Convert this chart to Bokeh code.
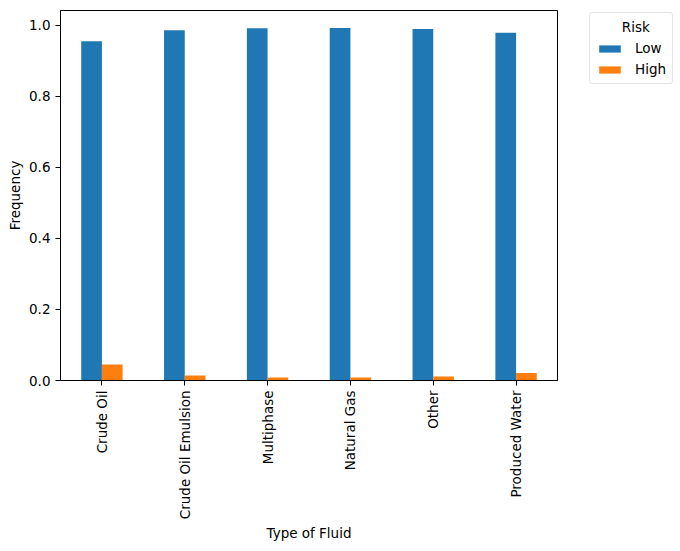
import math
from bokeh.plotting import figure
from bokeh.models import FactorRange, Legend, LegendItem, FixedTicker, NumeralTickFormatter
from bokeh.transform import dodge
from bokeh.embed import file_html
from bokeh.resources import INLINE
from bokeh.models import ColumnDataSource

fluids = ["Crude Oil", "Crude Oil Emulsion", "Multiphase", "Natural Gas", "Other", "Produced Water"]
low = [0.955, 0.986, 0.9915, 0.9918, 0.989, 0.979]
high = [0.045, 0.014, 0.0085, 0.0082, 0.011, 0.021]
y_ticks = [0.0, 0.2, 0.4, 0.6, 0.8, 1.0]
legend_title = "Risk"

FONT = "DejaVu Sans"
FS = "13.5px"

src = ColumnDataSource(data=dict(fluid=fluids, low=low, high=high))

p = figure(x_range=FactorRange(factors=fluids), y_range=(0, max(low) * 1.05),
           frame_width=497, frame_height=370,
           min_border_left=60, min_border_right=115, min_border_top=10, min_border_bottom=150,
           output_backend="svg", toolbar_location=None)

r_low = p.vbar(x=dodge("fluid", -0.125, range=p.x_range), top="low", width=0.25, source=src,
               fill_color="#1f77b4", line_color=None)
r_high = p.vbar(x=dodge("fluid", 0.125, range=p.x_range), top="high", width=0.25, source=src,
                fill_color="#ff7f0e", line_color=None)

p.xgrid.visible = False
p.ygrid.visible = False
p.outline_line_color = "black"
p.outline_line_width = 1
p.outline_line_alpha = 1

for ax in (p.xaxis[0], p.yaxis[0]):
    ax.major_label_text_font = FONT
    ax.major_label_text_font_size = FS
    ax.major_label_text_color = "black"
    ax.axis_label_text_font = FONT
    ax.axis_label_text_font_size = FS
    ax.axis_label_text_font_style = "normal"
    ax.axis_label_text_color = "black"
    ax.major_tick_in = 0
    ax.major_tick_out = 5
    ax.minor_tick_in = 0
    ax.minor_tick_out = 0
    ax.axis_line_color = "black"
    ax.major_tick_line_color = "black"

p.xaxis.axis_label = "Type of Fluid"
p.xaxis.major_label_orientation = math.pi / 2
p.xaxis.axis_label_standoff = 3
p.xaxis.group_text_font_size = FS

p.yaxis.axis_label = "Frequency"
p.yaxis.ticker = FixedTicker(ticks=y_ticks)
p.yaxis.formatter = NumeralTickFormatter(format="0.0")
p.yaxis.axis_label_standoff = 3

legend = Legend(items=[LegendItem(label="Low", renderers=[r_low]),
                       LegendItem(label="High", renderers=[r_high])],
                location=(32, 296), title="\u00a0" * 6 + legend_title)
legend.margin = 0
legend.padding = 6
legend.glyph_width = 27
legend.glyph_height = 9
legend.label_height = 16
legend.spacing = 5
legend.label_standoff = 12
legend.label_text_font = FONT
legend.label_text_font_size = FS
legend.label_text_color = "black"
legend.title_text_font = FONT
legend.title_text_font_size = FS
legend.title_text_font_style = "normal"
legend.title_text_color = "black"
legend.title_standoff = 5
legend.border_line_color = "#cccccc"
legend.border_line_width = 1
legend.background_fill_alpha = 0.8
if "border_radius" in legend.properties():
    legend.border_radius = 3
p.add_layout(legend, "right")

open("out.html", "w").write(file_html(p, INLINE))
